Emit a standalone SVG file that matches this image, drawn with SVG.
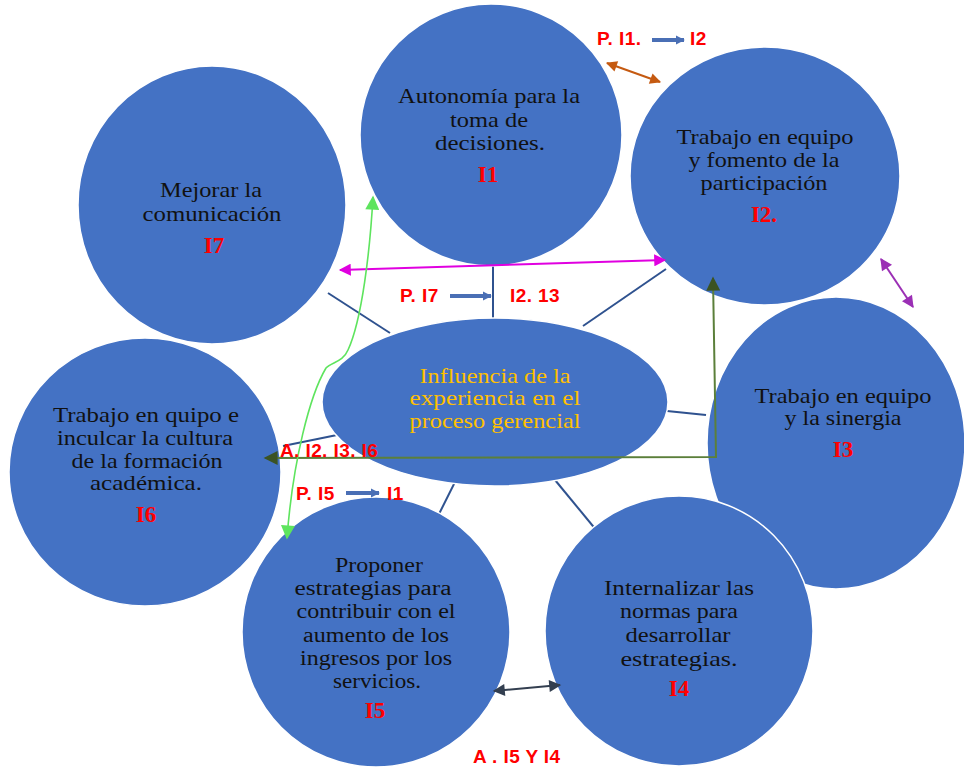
<svg xmlns="http://www.w3.org/2000/svg" width="964" height="767" viewBox="0 0 964 767">
<defs>
<style>
.node{fill:#4472C4;stroke:#ffffff;stroke-width:1.5}
.t{font-family:"Liberation Serif","Times New Roman",serif;font-size:21px;fill:#111111}
.t5{font-family:"Liberation Serif","Times New Roman",serif;font-size:20px;fill:#111111}
.c{font-family:"Liberation Serif","Times New Roman",serif;font-size:21px;fill:#FFC000}
.id{font-family:"Liberation Serif","Times New Roman",serif;font-size:23px;font-weight:bold;fill:#FF0000;text-anchor:middle}
.lab{font-family:"Liberation Sans",Arial,sans-serif;font-size:19px;font-weight:bold;fill:#FF0000;letter-spacing:0.4px}
.link{stroke:#2F528F;stroke-width:2;fill:none}
.barrow{stroke:#4A6FB5;stroke-width:4;fill:none}
</style>
<marker id="mOr" viewBox="0 0 10 10" refX="9" refY="5" markerWidth="14" markerHeight="11" markerUnits="userSpaceOnUse" orient="auto-start-reverse"><path d="M0,0 L10,5 L0,10 z" fill="#C55A11"/></marker>
<marker id="mPu" viewBox="0 0 10 10" refX="9" refY="5" markerWidth="14" markerHeight="12" markerUnits="userSpaceOnUse" orient="auto-start-reverse"><path d="M0,0 L10,5 L0,10 z" fill="#9B2FB5"/></marker>
<marker id="mMa" viewBox="0 0 10 10" refX="9" refY="5" markerWidth="15" markerHeight="12" markerUnits="userSpaceOnUse" orient="auto-start-reverse"><path d="M0,0 L10,5 L0,10 z" fill="#E000E0"/></marker>
<marker id="mBk" viewBox="0 0 10 10" refX="9" refY="5" markerWidth="15" markerHeight="12" markerUnits="userSpaceOnUse" orient="auto-start-reverse"><path d="M0,0 L10,5 L0,10 z" fill="#333F50"/></marker>
<marker id="mDg" viewBox="0 0 10 10" refX="9" refY="5" markerWidth="16" markerHeight="14" markerUnits="userSpaceOnUse" orient="auto-start-reverse"><path d="M0,0 L10,5 L0,10 z" fill="#3B5323"/></marker>
<marker id="mLg" viewBox="0 0 10 10" refX="9" refY="5" markerWidth="15" markerHeight="14" markerUnits="userSpaceOnUse" orient="auto-start-reverse"><path d="M0,0 L10,5 L0,10 z" fill="#5EE45E"/></marker>
<marker id="mBl" viewBox="0 0 10 10" refX="9" refY="5" markerWidth="9" markerHeight="10" markerUnits="userSpaceOnUse" orient="auto"><path d="M0,0 L10,5 L0,10 z" fill="#4A6FB5"/></marker>
</defs>
<rect width="964" height="767" fill="#ffffff"/>

<g id="connectors">
<line class="link" x1="493" y1="264" x2="493" y2="320"/>
<line class="link" x1="583" y1="326" x2="666" y2="269"/>
<line class="link" x1="328" y1="293" x2="390" y2="333"/>
<line class="link" x1="667" y1="411" x2="706" y2="415"/>
<line class="link" x1="283" y1="446" x2="337" y2="435"/>
<line class="link" x1="455" y1="482" x2="437" y2="518"/>
<line class="link" x1="555" y1="480" x2="597" y2="531"/>
</g>

<g id="n7"><ellipse class="node" cx="212" cy="205" rx="134" ry="139"/>
<text class="t" x="211" y="197" text-anchor="middle" textLength="102" lengthAdjust="spacingAndGlyphs">Mejorar la</text>
<text class="t" x="212" y="221" text-anchor="middle" textLength="139" lengthAdjust="spacingAndGlyphs">comunicación</text>
<text class="id" x="214" y="253">I7</text></g>

<g id="n1"><ellipse class="node" cx="491" cy="135" rx="131" ry="131"/>
<text class="t" x="489" y="103" text-anchor="middle" textLength="182" lengthAdjust="spacingAndGlyphs">Autonomía para la</text>
<text class="t" x="489" y="127" text-anchor="middle" textLength="78" lengthAdjust="spacingAndGlyphs">toma de</text>
<text class="t" x="490" y="150" text-anchor="middle" textLength="110" lengthAdjust="spacingAndGlyphs">decisiones.</text>
<text class="id" x="488" y="182">I1</text></g>

<g id="n2"><ellipse class="node" cx="765" cy="176" rx="135" ry="129"/>
<text class="t" x="765" y="144" text-anchor="middle" textLength="177" lengthAdjust="spacingAndGlyphs">Trabajo en equipo</text>
<text class="t" x="764" y="167" text-anchor="middle" textLength="151" lengthAdjust="spacingAndGlyphs">y fomento de la</text>
<text class="t" x="764" y="190" text-anchor="middle" textLength="127" lengthAdjust="spacingAndGlyphs">participación</text>
<text class="id" x="764" y="222">I2.</text></g>

<g id="n3"><ellipse class="node" cx="836" cy="443" rx="129" ry="146"/>
<text class="t" x="843" y="403" text-anchor="middle" textLength="177" lengthAdjust="spacingAndGlyphs">Trabajo en equipo</text>
<text class="t" x="843" y="425" text-anchor="middle" textLength="117" lengthAdjust="spacingAndGlyphs">y la sinergia</text>
<text class="id" x="843" y="457">I3</text></g>

<g id="n6"><ellipse class="node" cx="145" cy="472" rx="136" ry="134"/>
<text class="t" x="146" y="422" text-anchor="middle" textLength="186" lengthAdjust="spacingAndGlyphs">Trabajo en quipo e</text>
<text class="t" x="145" y="445" text-anchor="middle" textLength="176" lengthAdjust="spacingAndGlyphs">inculcar la cultura</text>
<text class="t" x="147" y="468" text-anchor="middle" textLength="151" lengthAdjust="spacingAndGlyphs">de la formación</text>
<text class="t" x="146" y="490" text-anchor="middle" textLength="112" lengthAdjust="spacingAndGlyphs">académica.</text>
<text class="id" x="146" y="522">I6</text></g>

<g id="n5"><ellipse class="node" cx="376" cy="632" rx="134" ry="135"/>
<text class="t5" x="379" y="572" text-anchor="middle" textLength="88" lengthAdjust="spacingAndGlyphs">Proponer</text>
<text class="t5" x="373" y="595" text-anchor="middle" textLength="157" lengthAdjust="spacingAndGlyphs">estrategias para</text>
<text class="t5" x="376" y="618" text-anchor="middle" textLength="159" lengthAdjust="spacingAndGlyphs">contribuir con el</text>
<text class="t5" x="376" y="642" text-anchor="middle" textLength="146" lengthAdjust="spacingAndGlyphs">aumento de los</text>
<text class="t5" x="376" y="665" text-anchor="middle" textLength="152" lengthAdjust="spacingAndGlyphs">ingresos por los</text>
<text class="t5" x="377" y="688" text-anchor="middle" textLength="88" lengthAdjust="spacingAndGlyphs">servicios.</text>
<text class="id" x="375" y="718">I5</text></g>

<g id="n4"><ellipse class="node" cx="679" cy="631" rx="134" ry="135"/>
<text class="t" x="679" y="595" text-anchor="middle" textLength="150" lengthAdjust="spacingAndGlyphs">Internalizar las</text>
<text class="t" x="679" y="618" text-anchor="middle" textLength="118" lengthAdjust="spacingAndGlyphs">normas para</text>
<text class="t" x="678" y="642" text-anchor="middle" textLength="105" lengthAdjust="spacingAndGlyphs">desarrollar</text>
<text class="t" x="679" y="666" text-anchor="middle" textLength="117" lengthAdjust="spacingAndGlyphs">estrategias.</text>
<text class="id" x="679" y="696">I4</text></g>

<g id="n0"><ellipse class="node" cx="495" cy="402" rx="173" ry="84"/>
<text class="c" x="495" y="383" text-anchor="middle" textLength="151" lengthAdjust="spacingAndGlyphs">Influencia de la</text>
<text class="c" x="495" y="405" text-anchor="middle" textLength="171" lengthAdjust="spacingAndGlyphs">experiencia en el</text>
<text class="c" x="495" y="428" text-anchor="middle" textLength="171" lengthAdjust="spacingAndGlyphs">proceso gerencial</text></g>

<g id="relations">
<line x1="607" y1="63" x2="660" y2="82" stroke="#C55A11" stroke-width="2" marker-start="url(#mOr)" marker-end="url(#mOr)"/>
<line x1="881" y1="259" x2="913" y2="307" stroke="#9B2FB5" stroke-width="2" marker-start="url(#mPu)" marker-end="url(#mPu)"/>
<line x1="340" y1="270" x2="665" y2="260" stroke="#E000E0" stroke-width="2" marker-start="url(#mMa)" marker-end="url(#mMa)"/>
<line x1="494" y1="691" x2="560" y2="685" stroke="#333F50" stroke-width="2" marker-start="url(#mBk)" marker-end="url(#mBk)"/>
<polyline points="713,278 716,457 265,458" fill="none" stroke="#5B7F3A" stroke-width="2" marker-start="url(#mDg)" marker-end="url(#mDg)"/>
<path d="M373,197 C370,250 362,320 348,350 C343,362 332,362 326,368 C310,395 293,460 287,538" fill="none" stroke="#5EE45E" stroke-width="1.6" marker-start="url(#mLg)" marker-end="url(#mLg)"/>
<line class="barrow" x1="652" y1="40" x2="684" y2="40" marker-end="url(#mBl)"/>
<line class="barrow" x1="450" y1="296" x2="491" y2="296" marker-end="url(#mBl)"/>
<line class="barrow" x1="346" y1="493" x2="379" y2="493" marker-end="url(#mBl)"/>
</g>

<g id="labels">
<text class="lab" x="597" y="45">P. I1.</text>
<text class="lab" x="690" y="45">I2</text>
<text class="lab" x="400" y="302">P. I7</text>
<text class="lab" x="510" y="302">I2. 13</text>
<text class="lab" x="280" y="457">A. I2. I3. I6</text>
<text class="lab" x="296" y="500">P. I5</text>
<text class="lab" x="387" y="500">I1</text>
<text class="lab" x="473" y="763">A . I5 Y I4</text>
</g>
</svg>
